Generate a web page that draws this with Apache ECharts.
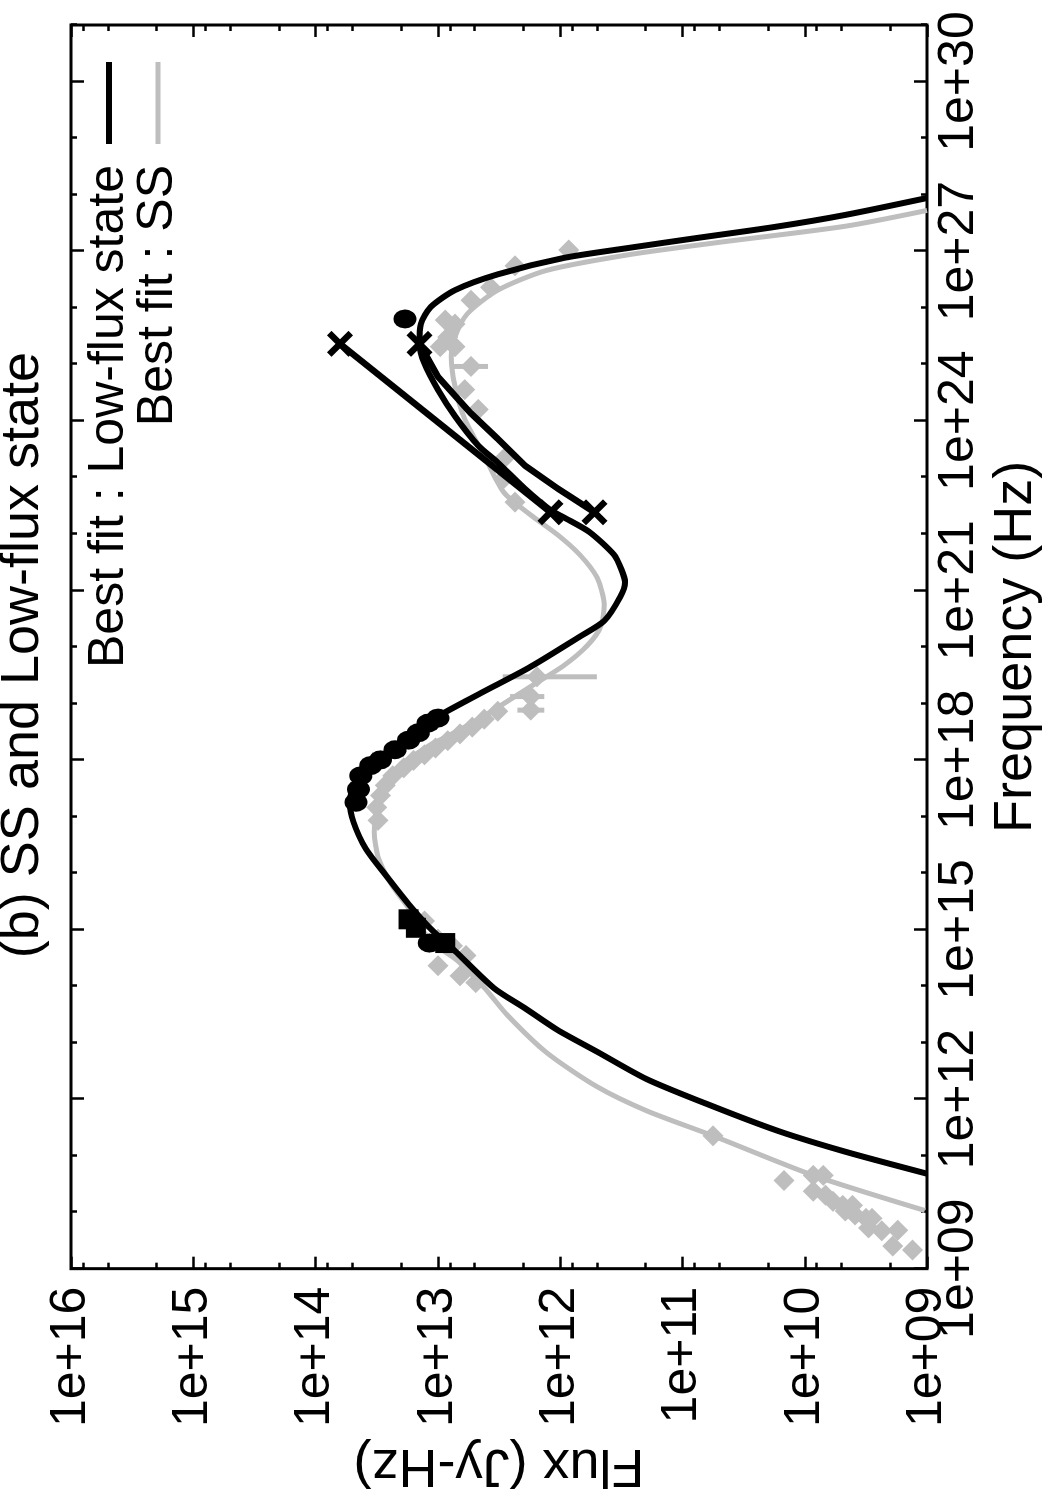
<!DOCTYPE html>
<html>
<head>
<meta charset="utf-8">
<title>SS and Low-flux state</title>
<script src="https://cdn.jsdelivr.net/npm/echarts@6/dist/echarts.min.js"></script>
<style>
  html, body { margin: 0; padding: 0; background: #fff; overflow: hidden; }
  #wrap { position: relative; width: 1048px; height: 1500px; overflow: hidden; }
  /* the figure is drawn landscape and turned a quarter left, like the printed page */
  #main { position: absolute; left: 0; top: 0; width: 1500px; height: 1048px;
          transform-origin: 0 0; transform: translate(0, 1500px) rotate(-90deg); }
</style>
</head>
<body>
<div id="wrap"><div id="main"></div></div>
<script>
// all values are log10: frequency in Hz, flux in Jy-Hz
const freqMajor = [9, 12, 15, 18, 21, 24, 27, 30];
const freqMinor = [10, 11, 13, 14, 16, 17, 19, 20, 22, 23, 25, 26, 28, 29, 31];
const fluxMajor = [9, 10, 11, 12, 13, 14, 15, 16];
const fluxMinorMult = [2, 5, 8];

// best fit : low-flux state
const lowFitNu = [10.68, 11.07, 11.43, 11.87, 12.35, 12.84, 13.22, 13.61, 13.96, 14.62, 14.97, 15.45, 15.97, 16.43,
  16.90, 17.25, 17.72, 18.07, 18.42, 18.77, 19.18, 19.65, 20.18, 20.46, 20.88, 21.14, 21.37, 21.63, 22.03, 22.29,
  22.42, 22.80, 23.26, 23.56, 24.08, 24.55, 25.01, 25.36, 25.71, 26.01, 26.31, 26.59, 26.88, 27.06, 27.23, 27.43,
  27.64, 27.94];
const lowFitFlux = [9.00, 9.67, 10.21, 10.75, 11.29, 11.70, 12.02, 12.29, 12.54, 12.86, 13.04, 13.24, 13.43, 13.59,
  13.69, 13.72, 13.65, 13.46, 13.24, 13.00, 12.65, 12.24, 11.84, 11.64, 11.51, 11.47, 11.50, 11.56, 11.76, 11.97,
  12.08, 12.29, 12.51, 12.67, 12.86, 13.00, 13.11, 13.15, 13.14, 13.06, 12.86, 12.51, 11.97, 11.43, 10.89, 10.24,
  9.67, 9.00];

// best fit : SS
const ssFitNu = [10.03, 10.65, 11.35, 11.79, 12.22, 12.82, 13.48, 13.97, 14.45, 14.80, 15.38, 15.80, 16.29, 16.72,
  17.16, 17.51, 17.86, 18.27, 18.42, 18.74, 18.93, 19.30, 19.67, 20.02, 20.35, 20.75, 21.23, 21.63, 21.98, 22.33,
  22.73, 23.38, 24.03, 24.61, 25.13, 25.48, 25.89, 26.31, 26.66, 26.94, 27.15, 27.44, 27.72];
const ssFitFlux = [9.02, 9.93, 10.75, 11.29, 11.70, 12.11, 12.43, 12.62, 12.84, 13.06, 13.24, 13.38, 13.49, 13.52,
  13.50, 13.44, 13.33, 13.06, 12.92, 12.65, 12.51, 12.24, 11.97, 11.78, 11.67, 11.64, 11.70, 11.84, 12.02, 12.24,
  12.46, 12.62, 12.78, 12.86, 12.89, 12.86, 12.76, 12.51, 12.11, 11.43, 10.72, 9.67, 9.00];

// SS data points (grey diamonds)
const ssNu = [9.33, 9.40, 9.67, 9.68, 9.72, 9.89, 9.89, 9.95, 10.02, 10.12, 10.12, 10.19, 10.30, 10.37, 10.56, 10.65,
  10.65, 11.35, 14.06, 14.18, 14.36, 14.54, 14.71, 14.83, 15.15, 16.93, 17.16, 17.37, 17.55, 17.72, 17.86, 17.99,
  18.09, 18.21, 18.34, 18.46, 18.58, 18.72, 18.86, 18.88, 19.12, 19.47, 22.56, 22.98, 23.33, 24.20, 24.55, 24.96,
  25.31, 25.31, 25.48, 25.71, 25.78, 26.13, 26.36, 26.74, 27.02];
const ssFlux = [9.12, 9.28, 9.37, 9.24, 9.48, 9.50, 9.45, 9.59, 9.67, 9.69, 9.61, 9.77, 9.83, 9.93, 10.17, 9.93,
  9.85, 10.75, 12.69, 12.82, 13.00, 12.77, 12.88, 13.00, 13.11, 13.49, 13.50, 13.47, 13.43, 13.37, 13.28, 13.20,
  13.11, 13.02, 12.92, 12.82, 12.72, 12.62, 12.51, 12.24, 12.24, 12.19, 12.37, 12.46, 12.46, 12.67, 12.78, 12.73,
  12.86, 12.98, 12.92, 12.86, 12.94, 12.73, 12.57, 12.37, 11.93];
const ssErrNu = [18.88, 19.12, 19.47, 24.96];
const ssErrLo = [12.13, 12.13, 11.70, 12.59];
const ssErrHi = [12.35, 12.41, 12.47, 12.89];

// low-flux state data points
const lowCircleNu = [14.76, 17.25, 17.48, 17.72, 17.90, 18.00, 18.18, 18.35, 18.48, 18.65, 18.74, 25.80];
const lowCircleFlux = [13.07, 13.67, 13.65, 13.63, 13.55, 13.47, 13.35, 13.24, 13.16, 13.08, 13.00, 13.27];
const lowSquareNu = [15.18, 15.03, 14.76];
const lowSquareFlux = [13.24, 13.18, 12.94];
const bowEndNu = [25.36, 25.36, 22.38, 22.38];
const bowEndFlux = [13.80, 13.15, 12.08, 11.72];
const bowUpperNu = [25.36, 22.38];
const bowUpperFlux = [13.80, 12.08];
const bowLowerNu = [25.36, 24.78, 24.13, 23.68, 23.21, 22.80, 22.38];
const bowLowerFlux = [13.15, 13.00, 12.73, 12.51, 12.29, 12.02, 11.72];

const FONT = '"Liberation Sans", Arial, Helvetica, sans-serif';
const GREY = '#bebebe';
const BLACK = '#000000';

function zip(a, b) { return a.map((v, i) => [v, b[i]]); }
function expLabel(v) { return '1e+' + (v < 10 ? '0' + v : String(v)); }

const fluxMinor = [];
fluxMajor.slice(0, -1).forEach(function (e) {
  fluxMinorMult.forEach(function (m) { fluxMinor.push(e + Math.log10(m)); });
});

function tickAxis(pos, values, len, labels) {
  const ax = {
    type: 'value',
    position: pos,
    splitLine: { show: false },
    axisLine: { show: false, onZero: false },
    axisTick: { show: true, inside: true, length: len, customValues: values,
      lineStyle: { color: BLACK, width: 2.5 } },
    axisLabel: { show: false }
  };
  if (labels) {
    ax.axisLabel = { show: true, customValues: values, formatter: expLabel, color: BLACK,
      fontSize: 50, fontFamily: FONT, margin: labels };
  }
  return ax;
}

const xMain = Object.assign(tickAxis('bottom', freqMajor, 13, 7), {
  name: 'Frequency (Hz)', nameLocation: 'middle', nameGap: 55,
  nameTextStyle: { color: BLACK, fontSize: 54, fontFamily: FONT }
});
const yMain = Object.assign(tickAxis('left', fluxMajor, 12, 18), {
  name: 'Flux (Jy-Hz)', nameLocation: 'middle', nameGap: 155, nameRotate: 90,
  nameTextStyle: { color: BLACK, fontSize: 54, fontFamily: FONT }
});

const xAxes = [xMain, tickAxis('bottom', freqMinor, 6), tickAxis('top', freqMajor, 13), tickAxis('top', freqMinor, 6)];
xAxes.forEach(function (a) { a.min = 9; a.max = 31; });
const yAxes = [yMain, tickAxis('left', fluxMinor, 6), tickAxis('right', fluxMajor, 12), tickAxis('right', fluxMinor, 6)];
yAxes.forEach(function (a) { a.min = 9; a.max = 16; });

const crossPath = 'path://M0,3.5L3.5,0L10,6.5L16.5,0L20,3.5L13.5,10L20,16.5L16.5,20L10,13.5L3.5,20L0,16.5L6.5,10Z';

const chart = echarts.init(document.getElementById('main'), null, { width: 1500, height: 1048, renderer: 'canvas' });

chart.setOption({
  animation: false,
  backgroundColor: '#ffffff',
  grid: { left: 219, right: 25, top: 71, bottom: 116, show: true, borderColor: BLACK, borderWidth: 3,
    backgroundColor: 'transparent' },
  xAxis: xAxes,
  yAxis: yAxes,
  graphic: [
    { type: 'text', x: 845, y: -4, style: { text: '(b) SS and Low-flux state', fontSize: 54, fontFamily: FONT,
      fill: BLACK, align: 'center', verticalAlign: 'top' } },
    { type: 'text', x: 1335, y: 109, style: { text: 'Best fit : Low-flux state', fontSize: 50, fontFamily: FONT,
      fill: BLACK, align: 'right', verticalAlign: 'middle' } },
    { type: 'line', shape: { x1: 1356, y1: 109, x2: 1438, y2: 109 }, style: { stroke: BLACK, lineWidth: 6 } },
    { type: 'text', x: 1335, y: 158, style: { text: 'Best fit : SS', fontSize: 50, fontFamily: FONT,
      fill: BLACK, align: 'right', verticalAlign: 'middle' } },
    { type: 'line', shape: { x1: 1356, y1: 158, x2: 1438, y2: 158 }, style: { stroke: GREY, lineWidth: 5 } }
  ],
  series: [
    {
      name: 'SS data', type: 'scatter', data: zip(ssNu, ssFlux),
      symbol: 'diamond', symbolSize: 21, itemStyle: { color: GREY, opacity: 1 }, z: 2
    },
    {
      name: 'SS errors', type: 'custom', data: ssErrNu.map((v, i) => [v, ssErrLo[i], ssErrHi[i]]),
      encode: { x: 0, y: [1, 2] }, z: 2,
      renderItem: function (params, api) {
        const a = api.coord([api.value(0), api.value(1)]);
        const b = api.coord([api.value(0), api.value(2)]);
        return { type: 'line', shape: { x1: a[0], y1: a[1], x2: b[0], y2: b[1] },
          style: { stroke: GREY, lineWidth: 5 } };
      }
    },
    {
      name: 'Best fit : SS', type: 'line', data: zip(ssFitNu, ssFitFlux), showSymbol: false, symbol: 'none',
      smooth: 0.25, lineStyle: { color: GREY, width: 5 }, z: 3
    },
    {
      name: 'Best fit : Low-flux state', type: 'line', data: zip(lowFitNu, lowFitFlux), showSymbol: false,
      symbol: 'none', smooth: 0.25, lineStyle: { color: BLACK, width: 6 }, z: 4
    },
    {
      name: 'bowtie upper', type: 'line', data: zip(bowUpperNu, bowUpperFlux), symbol: 'none',
      lineStyle: { color: BLACK, width: 6.5 }, z: 4
    },
    {
      name: 'bowtie lower', type: 'line', data: zip(bowLowerNu, bowLowerFlux), symbol: 'none',
      lineStyle: { color: BLACK, width: 6.5 }, z: 4
    },
    {
      name: 'bowtie ends', type: 'scatter', data: zip(bowEndNu, bowEndFlux), symbol: crossPath,
      symbolSize: 26, itemStyle: { color: BLACK, opacity: 1 }, z: 5
    },
    {
      name: 'low circles', type: 'scatter', data: zip(lowCircleNu, lowCircleFlux), symbol: 'circle',
      symbolSize: [19, 23], itemStyle: { color: BLACK, opacity: 1 }, z: 5
    },
    {
      name: 'low squares', type: 'scatter', data: zip(lowSquareNu, lowSquareFlux), symbol: 'rect',
      symbolSize: 20, itemStyle: { color: BLACK, opacity: 1 }, z: 5
    }
  ]
});
</script>
</body>
</html>
